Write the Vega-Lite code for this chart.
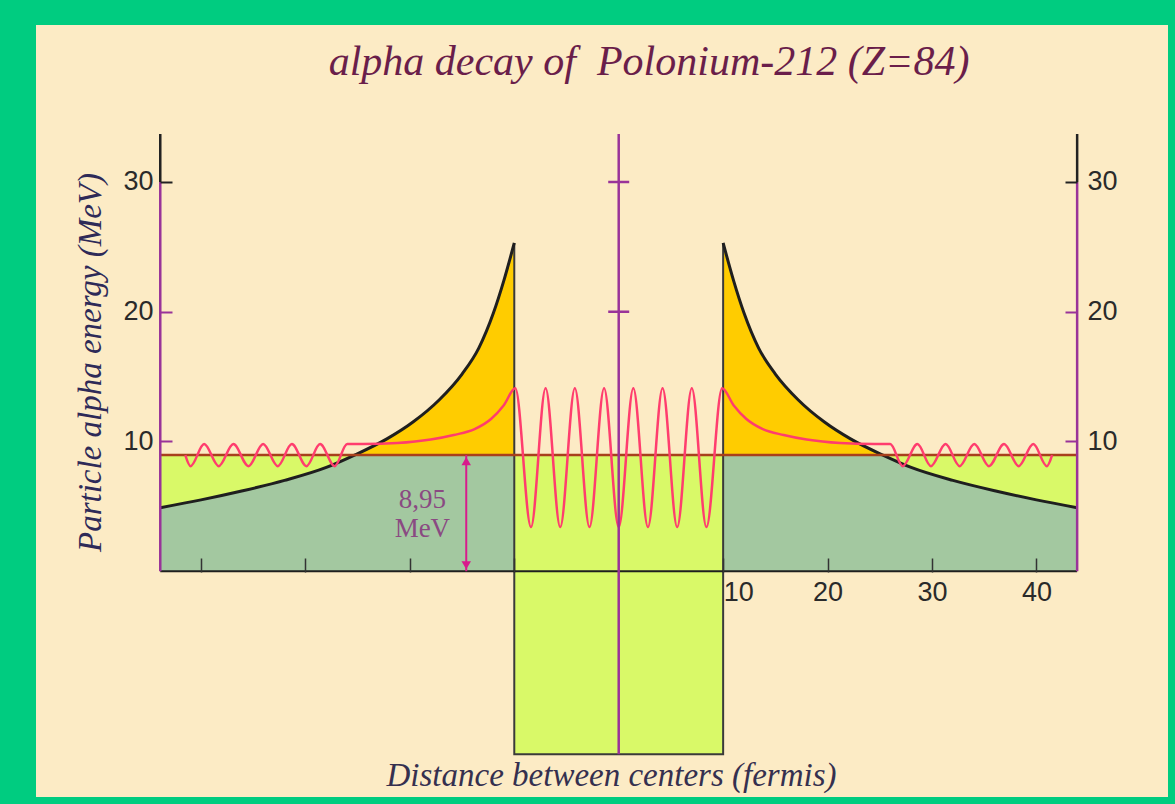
{
  "$schema": "https://vega.github.io/schema/vega-lite/v6.json",
  "width": 1132,
  "height": 772,
  "autosize": {"type": "none"},
  "padding": {"left": 36, "top": 25, "right": 7, "bottom": 7},
  "background": "#00CC80",
  "config": {"view": {"fill": "#FCEBC5", "stroke": null}},
  "title": {
    "text": "alpha decay of\u00a0 Polonium-212 (Z=84)",
    "font": "Liberation Serif",
    "fontStyle": "italic",
    "fontWeight": "normal",
    "fontSize": 42,
    "color": "#6A1E4A",
    "anchor": "middle",
    "frame": "group",
    "offset": 0,
    "dx": 47,
    "dy": 92,
    "baseline": "alphabetic"
  },
  "datasets": {
    "band": [
      {"part": "outside", "r": -43.9, "r2": 43.9, "v": 0, "v2": 8.95},
      {"part": "well", "r": -10, "r2": 10, "v": -14.1, "v2": 0}
    ],
    "coulomb": [
      {"side": "left", "r": -43.9, "v": 4.9},
      {"side": "left", "r": -40, "v": 5.5},
      {"side": "left", "r": -36, "v": 6.2},
      {"side": "left", "r": -32, "v": 7.0},
      {"side": "left", "r": -28, "v": 8.0},
      {"side": "left", "r": -25.3, "v": 8.95},
      {"side": "left", "r": -22.2, "v": 10.2},
      {"side": "left", "r": -19.7, "v": 11.5},
      {"side": "left", "r": -17.2, "v": 13.2},
      {"side": "left", "r": -15, "v": 15.2},
      {"side": "left", "r": -13.4, "v": 17.2},
      {"side": "left", "r": -12, "v": 19.9},
      {"side": "left", "r": -11, "v": 22.4},
      {"side": "left", "r": -10, "v": 25.3},
      {"side": "right", "r": 10, "v": 25.3},
      {"side": "right", "r": 11, "v": 22.4},
      {"side": "right", "r": 12, "v": 19.9},
      {"side": "right", "r": 13.4, "v": 17.2},
      {"side": "right", "r": 15, "v": 15.2},
      {"side": "right", "r": 17.2, "v": 13.2},
      {"side": "right", "r": 19.7, "v": 11.5},
      {"side": "right", "r": 22.2, "v": 10.2},
      {"side": "right", "r": 25.3, "v": 8.95},
      {"side": "right", "r": 28, "v": 8.0},
      {"side": "right", "r": 32, "v": 7.0},
      {"side": "right", "r": 36, "v": 6.2},
      {"side": "right", "r": 40, "v": 5.5},
      {"side": "right", "r": 43.9, "v": 4.9}
    ],
    "wall": [
      {"k": 1, "r": -10, "v": 25.3},
      {"k": 2, "r": -10, "v": -14.1},
      {"k": 3, "r": 10, "v": -14.1},
      {"k": 4, "r": 10, "v": 25.3}
    ],
    "baseline": [{"r": -43.9, "r2": 43.9, "v": 0}],
    "level": [{"r": -43.9, "r2": 43.9, "v": 8.95}],
    "wave": [
      {"r": -41.5, "v": 8.95}, {"r": -41.0, "v": 8.1}, {"r": -39.7, "v": 9.8},
      {"r": -38.3, "v": 8.1}, {"r": -36.9, "v": 9.8}, {"r": -35.45, "v": 8.1},
      {"r": -34.05, "v": 9.8}, {"r": -32.65, "v": 8.1}, {"r": -31.3, "v": 9.8},
      {"r": -29.9, "v": 8.1}, {"r": -28.6, "v": 9.8}, {"r": -27.2, "v": 8.1},
      {"r": -26.0, "v": 9.8}, {"r": -24.5, "v": 9.8}, {"r": -21.2, "v": 9.88},
      {"r": -18.0, "v": 10.15}, {"r": -15.8, "v": 10.5}, {"r": -13.8, "v": 10.95},
      {"r": -12.2, "v": 11.75}, {"r": -11.0, "v": 12.8}, {"r": -9.9, "v": 14.1},
      {"r": -8.4, "v": 3.4}, {"r": -7.0, "v": 14.1}, {"r": -5.6, "v": 3.4},
      {"r": -4.2, "v": 14.1}, {"r": -2.8, "v": 3.4}, {"r": -1.4, "v": 14.1},
      {"r": 0, "v": 3.4}, {"r": 1.4, "v": 14.1}, {"r": 2.8, "v": 3.4},
      {"r": 4.2, "v": 14.1}, {"r": 5.6, "v": 3.4}, {"r": 7.0, "v": 14.1},
      {"r": 8.4, "v": 3.4}, {"r": 9.9, "v": 14.1}, {"r": 11.0, "v": 12.8},
      {"r": 12.2, "v": 11.75}, {"r": 13.8, "v": 10.95}, {"r": 15.8, "v": 10.5},
      {"r": 18.0, "v": 10.15}, {"r": 21.2, "v": 9.88}, {"r": 24.5, "v": 9.8},
      {"r": 26.0, "v": 9.8}, {"r": 27.2, "v": 8.1}, {"r": 28.6, "v": 9.8},
      {"r": 29.9, "v": 8.1}, {"r": 31.3, "v": 9.8}, {"r": 32.65, "v": 8.1},
      {"r": 34.05, "v": 9.8}, {"r": 35.45, "v": 8.1}, {"r": 36.9, "v": 9.8},
      {"r": 38.3, "v": 8.1}, {"r": 39.7, "v": 9.8}, {"r": 41.0, "v": 8.1},
      {"r": 41.5, "v": 8.95}
    ],
    "spines": [
      {"seg": "lower", "r": -43.9, "v": 0, "v2": 30},
      {"seg": "upper", "r": -43.9, "v": 30, "v2": 33.7},
      {"seg": "lower", "r": 43.9, "v": 0, "v2": 30},
      {"seg": "upper", "r": 43.9, "v": 30, "v2": 33.7},
      {"seg": "lower", "r": 0, "v": -14.1, "v2": 33.7}
    ],
    "centerTicks": [{"r": 0, "v": 20}, {"r": 0, "v": 30}],
    "gap": [{"r": -14.6, "v": 0, "v2": 8.95}],
    "note": [{"r": -18.8, "v": 5.5, "text": "8,95\nMeV"}]
  },
  "encoding": {
    "x": {
      "field": "r", "type": "quantitative",
      "scale": {"domain": [-55.8, 52.6], "nice": false, "zero": false},
      "axis": {
        "orient": "bottom", "offset": -225, "zindex": 1,
        "values": [-40, -30, -20, -10, 10, 20, 30, 40],
        "domain": false, "grid": false,
        "tickSize": -14, "tickWidth": 1.5, "tickColor": "#333333",
        "labelExpr": "datum.value > 0 ? datum.label : ''",
        "labelFont": "Liberation Sans", "labelFontSize": 27, "labelColor": "#2a2a2a",
        "labelPadding": 21, "labelBaseline": "top",
        "labelAlign": {"condition": {"test": "datum.value === 10", "value": "left"}, "value": "center"},
        "title": "Distance between centers (fermis)",
        "titleFont": "Liberation Serif", "titleFontStyle": "italic", "titleFontWeight": "normal",
        "titleFontSize": 33, "titleColor": "#35304F",
        "titleX": 575, "titleY": 213, "titleBaseline": "alphabetic", "titleAlign": "center"
      }
    },
    "y": {"field": "v", "type": "quantitative", "scale": {"domain": [-17.4, 42.1], "nice": false, "zero": false}, "axis": null}
  },
  "layer": [
    {
      "data": {"name": "band"},
      "mark": {"type": "rect", "color": "#D9F968"},
      "encoding": {
        "x2": {"field": "r2"},
        "y": {
          "field": "v", "type": "quantitative",
          "scale": {"domain": [-17.4, 42.1], "nice": false, "zero": false},
          "axis": {
            "orient": "left", "offset": -124, "zindex": 1,
            "values": [10, 20, 30],
            "domain": false, "grid": false,
            "tickSize": -12, "tickWidth": 2,
            "tickColor": {"condition": {"test": "datum.value === 30", "value": "#222222"}, "value": "#993399"},
            "labelFont": "Liberation Sans", "labelFontSize": 27, "labelColor": "#2a2a2a",
            "labelPadding": 19,
            "title": "Particle alpha energy (MeV)",
            "titleFont": "Liberation Serif", "titleFontStyle": "italic", "titleFontWeight": "normal",
            "titleFontSize": 33, "titleColor": "#2E2A58",
            "titleX": -70, "titleY": 337, "titleBaseline": "middle", "titleAlign": "center"
          }
        },
        "y2": {"field": "v2"}
      }
    },
    {
      "data": {"name": "coulomb"},
      "mark": {"type": "area", "interpolate": "monotone", "color": "#A3C8A0"},
      "encoding": {
        "y": {
          "field": "v", "type": "quantitative",
          "scale": {"domain": [-17.4, 42.1], "nice": false, "zero": false},
          "axis": {
            "orient": "right", "offset": -91, "zindex": 1,
            "values": [10, 20, 30],
            "domain": false, "grid": false,
            "tickSize": -12, "tickWidth": 2,
            "tickColor": {"condition": {"test": "datum.value === 30", "value": "#222222"}, "value": "#993399"},
            "labelFont": "Liberation Sans", "labelFontSize": 27, "labelColor": "#2a2a2a",
            "labelPadding": 22,
            "title": null
          }
        },
        "y2": {"datum": 0},
        "detail": {"field": "side"}
      }
    },
    {
      "data": {"name": "coulomb"},
      "transform": [{"filter": "abs(datum.r) <= 25.3"}],
      "mark": {"type": "area", "interpolate": "monotone", "color": "#FFCC00"},
      "encoding": {
        "y2": {"datum": 8.95},
        "detail": {"field": "side"}
      }
    },
    {
      "data": {"name": "wall"},
      "mark": {"type": "line", "color": "#3a3a3a", "strokeWidth": 2},
      "encoding": {"order": {"field": "k"}}
    },
    {
      "data": {"name": "coulomb"},
      "mark": {"type": "line", "interpolate": "monotone", "color": "#1f1f1f", "strokeWidth": 3},
      "encoding": {"detail": {"field": "side"}}
    },
    {
      "data": {"name": "baseline"},
      "mark": {"type": "rule", "color": "#1f1f1f", "strokeWidth": 2},
      "encoding": {"x2": {"field": "r2"}}
    },
    {
      "data": {"name": "level"},
      "mark": {"type": "rule", "color": "#A8401C", "strokeWidth": 2.5},
      "encoding": {"x2": {"field": "r2"}}
    },
    {
      "data": {"name": "wave"},
      "mark": {"type": "line", "interpolate": "monotone", "color": "#FF3D6E", "strokeWidth": 2.5},
      "encoding": {}
    },
    {
      "data": {"name": "spines"},
      "mark": {"type": "rule", "strokeWidth": 2.5},
      "encoding": {
        "y2": {"field": "v2"},
        "color": {"field": "seg", "type": "nominal", "scale": {"domain": ["lower", "upper"], "range": ["#993399", "#222222"]}, "legend": null}
      }
    },
    {
      "data": {"name": "centerTicks"},
      "mark": {"type": "tick", "orient": "horizontal", "size": 21, "thickness": 2.5, "color": "#993399", "opacity": 1},
      "encoding": {}
    },
    {
      "data": {"name": "gap"},
      "mark": {"type": "rule", "color": "#D81B8C", "strokeWidth": 2},
      "encoding": {"y2": {"field": "v2"}}
    },
    {
      "data": {"name": "gap"},
      "mark": {"type": "point", "shape": "triangle-up", "filled": true, "size": 90, "color": "#D81B8C", "opacity": 1, "yOffset": 6},
      "encoding": {"y": {"field": "v2", "type": "quantitative", "scale": {"domain": [-17.4, 42.1], "nice": false, "zero": false}, "axis": null}}
    },
    {
      "data": {"name": "gap"},
      "mark": {"type": "point", "shape": "triangle-down", "filled": true, "size": 90, "color": "#D81B8C", "opacity": 1, "yOffset": -6},
      "encoding": {}
    },
    {
      "data": {"name": "note"},
      "mark": {"type": "text", "font": "Liberation Serif", "fontSize": 27, "color": "#8A4A82", "lineBreak": "\n", "lineHeight": 29, "baseline": "middle", "align": "center"},
      "encoding": {"text": {"field": "text"}}
    }
  ],
  "resolve": {"axis": {"y": "independent"}}
}
